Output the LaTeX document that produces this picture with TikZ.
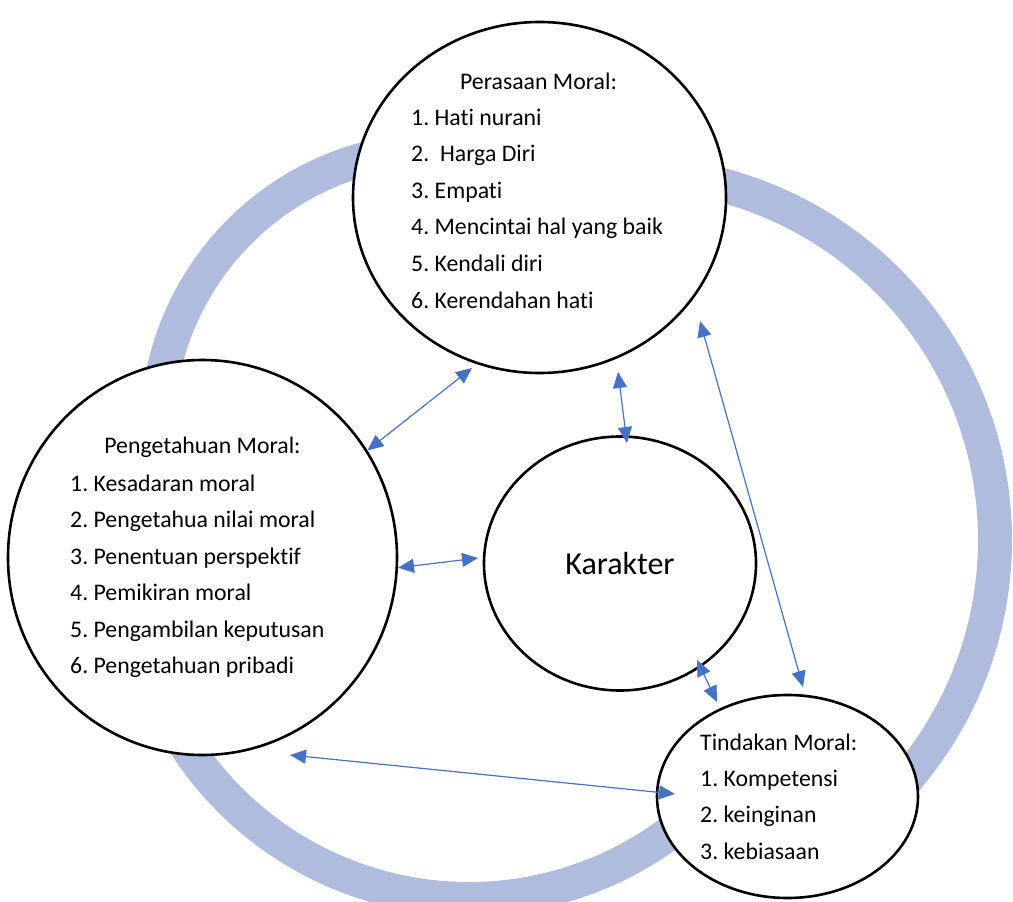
\documentclass[tikz,border=0pt]{standalone}
\usepackage{fontspec}
\setmainfont{Carlito}[Ligatures=NoCommon]
\usetikzlibrary{shapes.geometric}
\usetikzlibrary{arrows.meta}
\definecolor{ringblue}{RGB}{175,188,222}
\definecolor{linkblue}{RGB}{68,114,196}
\frenchspacing

\begin{document}
\begin{tikzpicture}[x=1pt, y=-1pt,
    moral/.style={ellipse, draw=black, line width=2.6pt, fill=white, inner sep=0pt},
    listitem/.style={anchor=base west, inner sep=0pt, font=\fontsize{23.8}{28}\selectfont},
    headline/.style={listitem, anchor=base},
    link/.style={draw=linkblue, line width=1.2pt,
        {Triangle[length=16pt,width=14pt]}-{Triangle[length=16pt,width=14pt]}},
    ringline/.style={draw=ringblue, line width=34pt}]

    \useasboundingbox (0,0) rectangle (1013,902);

    % cincin di belakang (ujung-ujungnya tertutup lingkaran)
    \draw[ringline] (439,431) ++(180:282) arc[start angle=180, end angle=265, radius=282];
    \draw[ringline] (628,540) ++(270:367) arc[start angle=270, end angle=410, radius=367];
    \draw[ringline] (469,561) ++(45:338) arc[start angle=45, end angle=155, radius=338];

    % lingkaran
    \node[moral, minimum width=373pt, minimum height=351pt] (pera) at (539.5,197.5) {};
    \node[moral, minimum width=389pt, minimum height=395pt] (peng) at (202.5,557.5) {};
    \node[moral, minimum width=272pt, minimum height=254pt,
        font=\fontsize{32}{36}\selectfont] (kar) at (620,563.5) {Karakter};
    \node[moral, minimum width=261pt, minimum height=203pt] (tind) at (787.5,796.5) {};

    % ujung panah
    \coordinate (peraL) at (472,368);
    \coordinate (karW) at (478,558);
    \coordinate (peraB) at (618,372);
    \coordinate (karN) at (627,443);
    \coordinate (peraE) at (700,321);
    \coordinate (tindN) at (803,687);
    \coordinate (karS) at (697,660);
    \coordinate (tindNW) at (717,702);
    \coordinate (pengS) at (290,755);
    \coordinate (tindW) at (675,794);

    \draw[link] (peng.33.6) -- (peraL);
    \draw[link] (peng.357.2) -- (karW);
    \draw[link] (peraB) -- (karN);
    \draw[link] (peraE) -- (tindN);
    \draw[link] (karS) -- (tindNW);
    \draw[link] (pengS) -- (tindW);

    % teks
    \node[headline] (pera-t) at (538.5,89) {Perasaan Moral:};
    \foreach \t [count=\i] in {1. Hati nurani, 2.\ \ Harga Diri, 3. Empati,
        4. Mencintai hal yang baik, 5. Kendali diri, 6. Kerendahan hati}
        \node[listitem] (pera-\i) at (411,{125+36.6*(\i-1)}) {\t};

    \node[headline] (peng-t) at (202.5,453.5) {Pengetahuan Moral:};
    \foreach \t [count=\i] in {1. Kesadaran moral, 2. Pengetahua nilai moral,
        3. Penentuan perspektif, 4. Pemikiran moral, 5. Pengambilan keputusan,
        6. Pengetahuan pribadi}
        \node[listitem] (peng-\i) at (70,{491+36.5*(\i-1)}) {\t};

    \node[listitem] (tind-t) at (700,750) {Tindakan Moral:};
    \foreach \t [count=\i] in {1. Kompetensi, 2. keinginan, 3. kebiasaan}
        \node[listitem] (tind-\i) at (700,{786+36.5*(\i-1)}) {\t};

\end{tikzpicture}
\end{document}
